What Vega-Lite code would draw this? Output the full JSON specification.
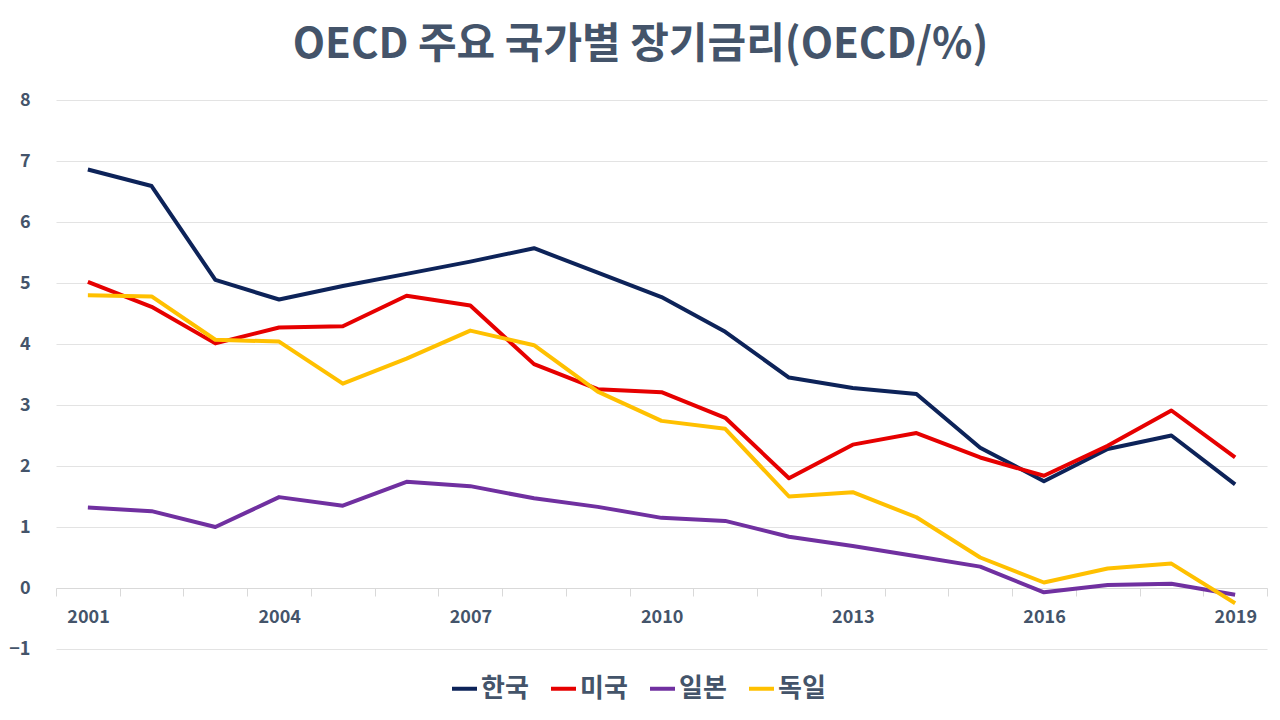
{
  "$schema": "https://vega.github.io/schema/vega-lite/v6.json",
  "description": "OECD 주요 국가별 장기금리",
  "width": 1211,
  "height": 549,
  "autosize": "none",
  "padding": {"left": 56, "top": 100, "right": 13, "bottom": 71},
  "background": "white",
  "config": {
    "font": "Noto Sans CJK KR",
    "view": {"stroke": null}
  },
  "title": {
    "text": "OECD 주요 국가별 장기금리(OECD/%)",
    "fontSize": 42,
    "fontWeight": "bold",
    "color": "#44546A",
    "anchor": "middle",
    "dx": -21,
    "offset": 24
  },
  "data": {
    "values": [
      {"year": 2001, "country": "한국", "rate": 6.86},
      {"year": 2002, "country": "한국", "rate": 6.59},
      {"year": 2003, "country": "한국", "rate": 5.05},
      {"year": 2004, "country": "한국", "rate": 4.73},
      {"year": 2005, "country": "한국", "rate": 4.95},
      {"year": 2006, "country": "한국", "rate": 5.15},
      {"year": 2007, "country": "한국", "rate": 5.35},
      {"year": 2008, "country": "한국", "rate": 5.57},
      {"year": 2009, "country": "한국", "rate": 5.17},
      {"year": 2010, "country": "한국", "rate": 4.77},
      {"year": 2011, "country": "한국", "rate": 4.2},
      {"year": 2012, "country": "한국", "rate": 3.45},
      {"year": 2013, "country": "한국", "rate": 3.28},
      {"year": 2014, "country": "한국", "rate": 3.18},
      {"year": 2015, "country": "한국", "rate": 2.3},
      {"year": 2016, "country": "한국", "rate": 1.75},
      {"year": 2017, "country": "한국", "rate": 2.28},
      {"year": 2018, "country": "한국", "rate": 2.5},
      {"year": 2019, "country": "한국", "rate": 1.7},
      {"year": 2001, "country": "미국", "rate": 5.02},
      {"year": 2002, "country": "미국", "rate": 4.61},
      {"year": 2003, "country": "미국", "rate": 4.01},
      {"year": 2004, "country": "미국", "rate": 4.27},
      {"year": 2005, "country": "미국", "rate": 4.29},
      {"year": 2006, "country": "미국", "rate": 4.79},
      {"year": 2007, "country": "미국", "rate": 4.63},
      {"year": 2008, "country": "미국", "rate": 3.67},
      {"year": 2009, "country": "미국", "rate": 3.26},
      {"year": 2010, "country": "미국", "rate": 3.21},
      {"year": 2011, "country": "미국", "rate": 2.79},
      {"year": 2012, "country": "미국", "rate": 1.8},
      {"year": 2013, "country": "미국", "rate": 2.35},
      {"year": 2014, "country": "미국", "rate": 2.54},
      {"year": 2015, "country": "미국", "rate": 2.14},
      {"year": 2016, "country": "미국", "rate": 1.84},
      {"year": 2017, "country": "미국", "rate": 2.33},
      {"year": 2018, "country": "미국", "rate": 2.91},
      {"year": 2019, "country": "미국", "rate": 2.14},
      {"year": 2001, "country": "일본", "rate": 1.32},
      {"year": 2002, "country": "일본", "rate": 1.26},
      {"year": 2003, "country": "일본", "rate": 1.0},
      {"year": 2004, "country": "일본", "rate": 1.49},
      {"year": 2005, "country": "일본", "rate": 1.35},
      {"year": 2006, "country": "일본", "rate": 1.74},
      {"year": 2007, "country": "일본", "rate": 1.67},
      {"year": 2008, "country": "일본", "rate": 1.47},
      {"year": 2009, "country": "일본", "rate": 1.33},
      {"year": 2010, "country": "일본", "rate": 1.15},
      {"year": 2011, "country": "일본", "rate": 1.1},
      {"year": 2012, "country": "일본", "rate": 0.84},
      {"year": 2013, "country": "일본", "rate": 0.69},
      {"year": 2014, "country": "일본", "rate": 0.52},
      {"year": 2015, "country": "일본", "rate": 0.35},
      {"year": 2016, "country": "일본", "rate": -0.07},
      {"year": 2017, "country": "일본", "rate": 0.05},
      {"year": 2018, "country": "일본", "rate": 0.07},
      {"year": 2019, "country": "일본", "rate": -0.11},
      {"year": 2001, "country": "독일", "rate": 4.8},
      {"year": 2002, "country": "독일", "rate": 4.78},
      {"year": 2003, "country": "독일", "rate": 4.07},
      {"year": 2004, "country": "독일", "rate": 4.04},
      {"year": 2005, "country": "독일", "rate": 3.35},
      {"year": 2006, "country": "독일", "rate": 3.76},
      {"year": 2007, "country": "독일", "rate": 4.22},
      {"year": 2008, "country": "독일", "rate": 3.98},
      {"year": 2009, "country": "독일", "rate": 3.22},
      {"year": 2010, "country": "독일", "rate": 2.74},
      {"year": 2011, "country": "독일", "rate": 2.61},
      {"year": 2012, "country": "독일", "rate": 1.5},
      {"year": 2013, "country": "독일", "rate": 1.57},
      {"year": 2014, "country": "독일", "rate": 1.16},
      {"year": 2015, "country": "독일", "rate": 0.5},
      {"year": 2016, "country": "독일", "rate": 0.09},
      {"year": 2017, "country": "독일", "rate": 0.32},
      {"year": 2018, "country": "독일", "rate": 0.4},
      {"year": 2019, "country": "독일", "rate": -0.25}
    ]
  },
  "mark": {"type": "line", "strokeWidth": 4, "strokeJoin": "round"},
  "encoding": {
    "x": {
      "field": "year",
      "type": "quantitative",
      "scale": {"domain": [2000.5, 2019.5], "nice": false, "zero": false},
      "axis": {
        "title": null,
        "grid": false,
        "offset": -61,
        "values": [2000.5, 2001.5, 2002.5, 2003.5, 2004.5, 2005.5, 2006.5, 2007.5, 2008.5, 2009.5, 2010.5, 2011.5, 2012.5, 2013.5, 2014.5, 2015.5, 2016.5, 2017.5, 2018.5, 2019.5],
        "labelExpr": "(datum.value + 0.5 - 2001) % 3 == 0 && datum.value < 2019 ? format(datum.value + 0.5, 'd') : ''",
        "labelOffset": 32,
        "labelFlush": false,
        "labelOverlap": false,
        "labelFontSize": 18,
        "labelFontWeight": "bold",
        "labelColor": "#44546A",
        "labelPadding": 12,
        "tickSize": 8,
        "tickColor": "#D9D9D9",
        "domainColor": "#D9D9D9"
      }
    },
    "y": {
      "field": "rate",
      "type": "quantitative",
      "scale": {"domain": [-1, 8], "nice": false},
      "axis": {
        "title": null,
        "values": [-1, 0, 1, 2, 3, 4, 5, 6, 7, 8],
        "domain": false,
        "ticks": false,
        "gridColor": "#E3E3E3",
        "labelFontSize": 18,
        "labelFontWeight": "bold",
        "labelColor": "#44546A",
        "labelPadding": 26
      }
    },
    "color": {
      "field": "country",
      "type": "nominal",
      "sort": ["한국", "미국", "일본", "독일"],
      "scale": {
        "domain": ["한국", "미국", "일본", "독일"],
        "range": ["#0D2359", "#E60000", "#7030A0", "#FFC000"]
      },
      "legend": {
        "title": null,
        "orient": "none",
        "direction": "horizontal",
        "legendX": 394,
        "legendY": 574,
        "symbolType": "stroke",
        "symbolStrokeWidth": 4,
        "symbolSize": 625,
        "labelFontSize": 26,
        "labelFontWeight": "bold",
        "labelColor": "#44546A",
        "labelOffset": 2,
        "columnPadding": 14
      }
    }
  }
}
